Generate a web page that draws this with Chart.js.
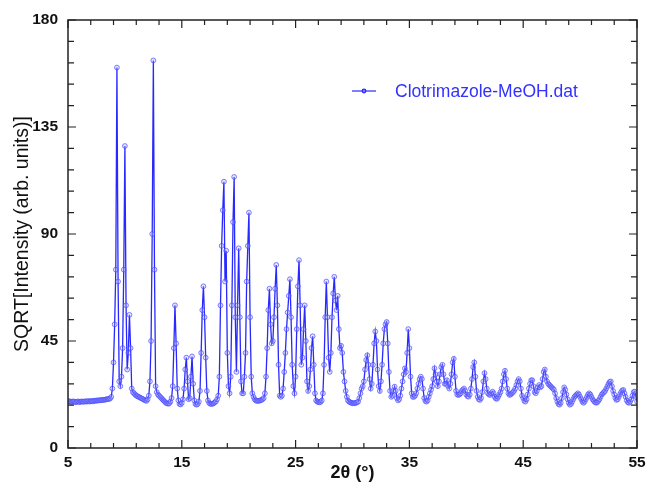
<!DOCTYPE html>
<html><head><meta charset="utf-8">
<script src="https://cdn.jsdelivr.net/npm/chart.js@4/dist/chart.umd.min.js"></script>
<style>html,body{margin:0;padding:0;background:#fff}#wrap{width:652px;height:484px;position:relative}</style>
</head><body><div id="wrap"><canvas id="c" width="652" height="484"></canvas></div>
<script>
const seriesName = 'Clotrimazole-MeOH.dat';
const xTitle = '2θ (°)';
const yTitle = 'SQRT[Intensity (arb. units)]';
const xTickLabels = [5, 15, 25, 35, 45, 55];
const yTickLabels = [0, 45, 90, 135, 180];
const angleStep = 0.1;

// sqrt(intensity), one value per 0.1° of 2θ
const sqrtI_05_15 = [
 19.8,19.5,19.6,19.3,19.5,19.6,19.4,19.2,19.5,19.6,
 19.3,19.4,19.6,19.5,19.4,19.7,19.5,19.6,19.8,19.5,
 19.7,19.8,19.6,19.9,19.8,20.0,19.9,20.1,20.0,20.2,
 20.1,20.3,20.2,20.4,20.5,20.6,20.6,20.8,21.5,25,
 36,52,75,160,70,28,26,30,42,75,
 127,60,33,40,56,42,25,23.5,23,22.5,
 22,21.8,21.5,21.3,21,20.8,20.5,20.2,20,19.8,
 20.5,22,28,45,90,163,75,26,23.5,22.5,
 22,21.5,21,20.5,20,19.5,19,18.8,18.6,18.8,
 19.5,21,26,42,60,44,25,20,18.5,18.3];
const sqrtI_15_25 = [
 19,20.5,25,33,38,28,20.5,21,30,38.5,
 27,20,18.5,18.2,18.5,19.5,24,40,58,68,
 55,38,24,20,19,18.6,18.5,18.6,18.8,19.2,
 19.6,20.5,22,30,60,85,100,112,70,83,
 40,26,23,30,60,95,114,55,32,60,
 84,55,28,23,23,30,40,70,85,99,
 55,30,23,21.5,20.5,20,19.8,19.8,19.9,20,
 20.2,20.5,21,23,30,42,58,67,52,44,
 45,55,67,77,60,35,22,21.5,22,25,
 32,40,50,57,64,71,55,35,26,23];
const sqrtI_25_35 = [
 30,50,68,79,60,35,38,50,60,45,
 28,24,26,33,42,47,35,23,20,19.5,
 19.3,19.2,19.4,20,23,35,55,70,55,38,
 32,40,55,65,72,62,58,64,50,42,
 43,40,32,28,24,21.5,20,19.5,19.2,19,
 18.8,18.9,18.8,19,19.2,19.5,21,23,25,26,
 28,33,37,39,35,29,25,27,35,44,
 49,45,33,26,24,28,35,44,50,52,
 53,44,32,24,21.5,22,24,25.8,24,21,
 20,20.5,22,25,28,31,33.5,32,40,50];
const sqrtI_35_45 = [
 42,30,23,21.5,21.5,22,23,25,27,29,
 30,29,25,21,19.8,19.5,20,21.5,23,24.5,
 26,29,33.5,31,28,26,28,31,34,35,
 31,27,27,28.5,26,25,27,31,36,37.5,
 30,24,22.5,22.3,22.5,23,24,24.5,25,24,
 22.5,21.8,21.6,22.5,25,29,34,36,30,24,
 21.5,20.5,20.2,21,23.5,28,31.5,29,25,23,
 22.5,22.3,23,23.7,23,21.5,20.8,20.7,21.5,22.5,
 23.5,25,28,31,32.5,29,25,23,22.3,22.5,
 23,23.5,24,25,26.5,28,29,28,25,22];
const sqrtI_45_55 = [
 21,19.8,19.5,20.5,22.5,25,27,28.5,28.5,26,
 23.5,23,24,25.5,26.5,25.5,26,29,32,33,
 30,28,27,26.5,26,25.5,25,24.5,23,21,
 19.5,18.5,18.2,19,21,23.5,25.5,24.5,22.5,20.5,
 19,18.2,18.5,19.5,20.5,21.5,22,22.5,23,22.5,
 21.5,20.5,19.5,19,19.5,20.5,21.5,22.5,23,22.5,
 21.5,20.5,19.8,19.3,19,19.2,19.8,20.5,21.5,22.5,
 23,23.5,24,25,26,27,27.8,28,26,24,
 22.5,21,20.2,20.5,21.5,22.5,23.5,24.2,24.4,23,
 21.5,20,19.2,19,19.5,20.5,22,23.5,23.7,21.5,
 19.5];

const segments = [[5, sqrtI_05_15], [15, sqrtI_15_25], [25, sqrtI_25_35], [35, sqrtI_35_45], [45, sqrtI_45_55]];
const points = [];
segments.forEach(([start, vals]) => vals.forEach((v, i) => points.push({x: Math.round((start + i * angleStep) * 100) / 100, y: v})));

const lineBlue = 'rgb(40,40,255)';
const FONT = 'Arial, "Liberation Sans", sans-serif';

const frameTicks = {
  id: 'frameTicks',
  afterDraw(chart) {
    const {ctx, chartArea: a, scales: {x, y}} = chart;
    ctx.save();
    ctx.strokeStyle = '#222';
    ctx.lineWidth = 1.5;
    ctx.strokeRect(a.left, a.top, a.right - a.left, a.bottom - a.top);
    ctx.lineWidth = 1.2;
    ctx.beginPath();
    for (let v = 5; v <= 55.001; v += 2) {
      const px = x.getPixelForValue(v);
      const len = ((v - 5) % 10 === 0) ? 8 : 5;
      ctx.moveTo(px, a.bottom); ctx.lineTo(px, a.bottom - len);
      ctx.moveTo(px, a.top); ctx.lineTo(px, a.top + len);
    }
    for (let v = 0; v <= 180; v += 9) {
      const py = y.getPixelForValue(v);
      const len = (v % 45 === 0) ? 8 : 6;
      ctx.moveTo(a.left, py); ctx.lineTo(a.left + len, py);
      ctx.moveTo(a.right, py); ctx.lineTo(a.right - len, py);
    }
    ctx.stroke();
    // legend
    const lx = 352, ly = 91;
    ctx.strokeStyle = lineBlue; ctx.lineWidth = 1.2;
    ctx.beginPath(); ctx.moveTo(lx, ly); ctx.lineTo(lx + 24, ly); ctx.stroke();
    ctx.beginPath(); ctx.arc(lx + 12, ly, 1.8, 0, Math.PI * 2);
    ctx.fillStyle = 'rgba(120,120,255,0.6)'; ctx.fill(); ctx.stroke();
    ctx.fillStyle = 'rgb(50,50,255)';
    ctx.font = '17.5px ' + FONT;
    ctx.textBaseline = 'middle';
    ctx.fillText(seriesName, 395, ly + 1);
    ctx.restore();
  }
};

new Chart(document.getElementById('c'), {
  type: 'line',
  data: {
    datasets: [{
      label: seriesName,
      data: points,
      borderColor: lineBlue,
      borderWidth: 1.3,
      pointRadius: 2.4,
      pointBorderWidth: 0.9,
      pointBorderColor: 'rgba(70,70,255,0.75)',
      pointBackgroundColor: 'rgba(170,170,255,0.3)',
      tension: 0,
      fill: false
    }]
  },
  options: {
    responsive: false,
    animation: false,
    devicePixelRatio: 1,
    layout: {padding: {left: 0, right: 15, top: 20, bottom: 0}},
    plugins: {legend: {display: false}, tooltip: {enabled: false}},
    scales: {
      x: {
        type: 'linear', min: 5, max: 55,
        afterBuildTicks: s => { s.ticks = xTickLabels.map(v => ({value: v})); },
        afterFit: s => { s.height = 36; },
        ticks: {color: '#111', padding: 5, maxRotation: 0, font: {family: FONT, size: 15.5, weight: 'bold'}},
        grid: {display: false, drawTicks: false}, border: {display: false},
        title: {display: true, text: xTitle, color: '#111', padding: {top: 0, bottom: 0}, font: {family: FONT, size: 18, weight: 'bold'}}
      },
      y: {
        min: 0, max: 180,
        afterBuildTicks: s => { s.ticks = yTickLabels.map(v => ({value: v})); },
        afterFit: s => { s.width = 68; },
        ticks: {color: '#111', padding: 10, font: {family: FONT, size: 15.5, weight: 'bold'}},
        grid: {display: false, drawTicks: false}, border: {display: false},
        title: {display: true, text: yTitle, color: '#111', padding: {top: 11, bottom: 0}, font: {family: FONT, size: 19.5}}
      }
    }
  },
  plugins: [frameTicks]
});
</script>
</body></html>
